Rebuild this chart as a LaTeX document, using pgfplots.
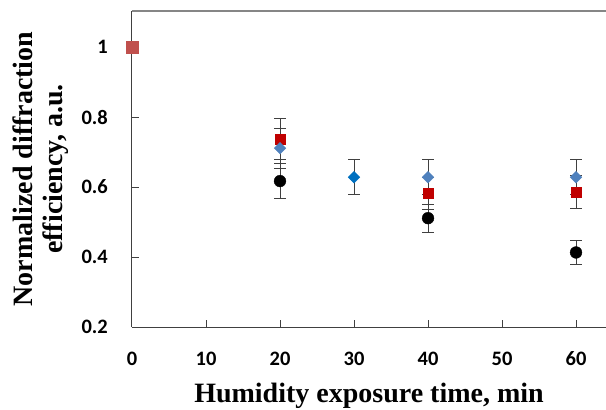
\documentclass[border=0pt]{standalone}
\usepackage{fontspec}
\setmainfont{Liberation Serif}
\newfontfamily\calibri{Carlito}
\usepackage{pgfplots}
\pgfplotsset{compat=1.18}
\definecolor{cred}{RGB}{192,0,0}
\definecolor{cblue}{RGB}{79,129,189}
\definecolor{cblueb}{RGB}{0,112,192}
\definecolor{cpink}{RGB}{192,80,77}
\definecolor{axdark}{RGB}{64,64,64}
\definecolor{axgray}{RGB}{134,134,134}
\begin{document}
\begin{tikzpicture}
\begin{axis}[
  name=ax,
  scale only axis,
  width=474bp, height=316bp,
  xmin=0, xmax=64.05,
  ymin=0.2, ymax=1.103,
  clip=false,
  axis x line=bottom, axis y line=left,
  axis line style={-, axdark, line width=1bp},
  tick align=inside,
  major tick length=7bp,
  tick style={axdark, line width=1bp},
  xtick={0,10,20,30,40,50,60},
  xticklabels={0,10,20,30,40,50,60},
  ytick={0.2,0.4,0.6,0.8,1},
  yticklabels={0.2,0.4,0.6,0.8,1},
  /pgf/number format/assume math mode=true,
  tick label style={font=\calibri\bfseries\fontsize{20.5bp}{24bp}\selectfont},
  yticklabel style={anchor=east, inner sep=0pt, xshift=-24bp},
  xticklabel style={anchor=center, inner sep=0pt, yshift=-32bp},
  xlabel={Humidity exposure time, min},
  xlabel style={at={(axis description cs:0.5,0)}, anchor=base, inner sep=0pt, yshift=-75bp,
    font=\bfseries\fontsize{28bp}{30bp}\selectfont},
  ylabel={Normalized diffraction\\efficiency, a.u.},
  ylabel style={at={(axis description cs:-0.1329,0.5)}, anchor=south, inner sep=0pt, align=center,
    font=\bfseries\fontsize{28bp}{30bp}\selectfont},
]
\draw[axgray, line width=1.3bp] (rel axis cs:0,1) -- (rel axis cs:1,1);
% black circles
\addplot[only marks, mark=*, mark size=5.9bp, color=black, mark options={fill=black},
  error bars/.cd, y dir=both, y explicit,
  error bar style={axdark, line width=1bp},
  error mark options={rotate=90, mark size=5.6bp, axdark, line width=1bp}]
  coordinates {(20,0.617) +- (0,0.05) (40,0.511) +- (0,0.04) (60,0.413) +- (0,0.033)};
% red squares
\addplot[only marks, mark=square*, mark size=4.7bp, color=cred, mark options={fill=cred},
  error bars/.cd, y dir=both, y explicit,
  error bar style={axdark, line width=1bp},
  error mark options={rotate=90, mark size=5.6bp, axdark, line width=1bp}]
  coordinates {(20,0.737) +- (0,0.058) (40,0.582) +- (0,0.046) (60,0.585) +- (0,0.047)};
% blue diamonds
\addplot[only marks, mark=square*, mark size=4.1bp, color=cblue, mark options={fill=cblue, rotate=45},
  error bars/.cd, y dir=both, y explicit,
  error bar style={axdark, line width=1bp},
  error mark options={rotate=90, mark size=5.6bp, axdark, line width=1bp}]
  coordinates {(20,0.711) +- (0,0.057) (40,0.628) +- (0,0.05) (60,0.628) +- (0,0.05)};
% bright blue diamond at 30
\addplot[only marks, mark=square*, mark size=4.1bp, color=cblueb, mark options={fill=cblueb, rotate=45},
  error bars/.cd, y dir=both, y explicit,
  error bar style={axdark, line width=1bp},
  error mark options={rotate=90, mark size=5.6bp, axdark, line width=1bp}]
  coordinates {(30,0.628) +- (0,0.05)};
% start point
\addplot[only marks, mark=square*, mark size=5.8bp, color=cpink, mark options={fill=cpink}]
  coordinates {(0,1)};
\end{axis}
\pgfresetboundingbox
\path[use as bounding box] ([xshift=-132bp,yshift=-83bp]ax.south west) rectangle ([yshift=11bp]ax.north east);
\end{tikzpicture}
\end{document}
